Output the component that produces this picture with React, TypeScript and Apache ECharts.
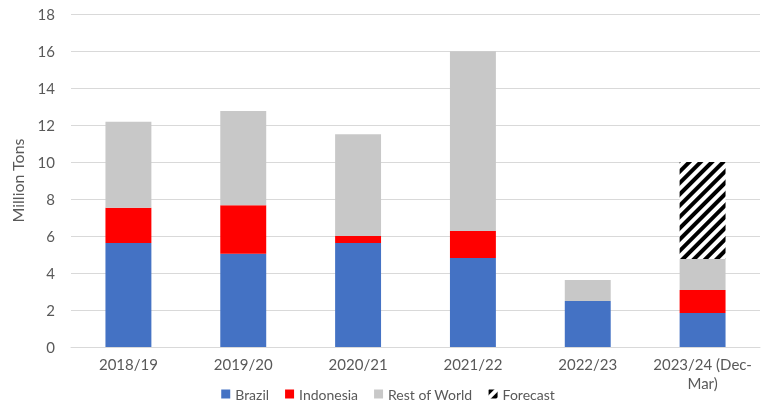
import React, { useEffect, useRef } from "react";
import * as echarts from "echarts";

const categories = ["2018/19", "2019/20", "2020/21", "2021/22", "2022/23", "2023/24 (Dec-\nMar)"];
const brazil = [5.62, 5.04, 5.62, 4.81, 2.49, 1.84];
const indonesia = [1.91, 2.62, 0.38, 1.46, 0, 1.24];
const restOfWorld = [4.65, 5.1, 5.5, 9.71, 1.13, 1.68];
const forecast = [null, null, null, null, null, 5.24];
const yTicks = { min: 0, max: 18, interval: 2 };

export default function App() {
  const ref = useRef<HTMLDivElement>(null);
  useEffect(() => {
    if (!ref.current) return;
    const chart = echarts.init(ref.current, undefined, { renderer: "svg" });
    const font = "Lato, 'Open Sans', sans-serif";
    chart.setOption({
      animation: false,
      grid: { left: 71, right: 16, top: 14, bottom: 62, outerBoundsMode: "none", containLabel: false },
      legend: {
        top: 382,
        left: "center",
        itemWidth: 9,
        itemHeight: 9,
        itemGap: 16,
        textStyle: { fontFamily: font, fontSize: 14, color: "#595959" },
        data: [
          { name: "Brazil", icon: "rect" },
          { name: "Indonesia", icon: "rect" },
          { name: "Rest of World", icon: "rect" },
          { name: "Forecast", icon: "rect" },
        ],
      },
      xAxis: {
        type: "category",
        data: categories,
        axisLine: { lineStyle: { color: "#d9d9d9", width: 1 } },
        axisTick: { show: false },
        axisLabel: { fontFamily: font, fontSize: 15, color: "#595959", margin: 7, lineHeight: 19, interval: 0 },
      },
      yAxis: {
        type: "value",
        min: yTicks.min,
        max: yTicks.max,
        interval: yTicks.interval,
        name: "Million Tons",
        nameLocation: "middle",
        nameGap: 46,
        nameTextStyle: { fontFamily: font, fontSize: 16, color: "#595959" },
        axisLabel: { fontFamily: font, fontSize: 15, color: "#595959", margin: 16 },
        axisLine: { show: false },
        axisTick: { show: false },
        splitLine: { lineStyle: { color: "#d9d9d9", width: 1 } },
      },
      series: [
        { name: "Brazil", type: "bar", stack: "t", data: brazil, barWidth: "40%", itemStyle: { color: "#4472c4" } },
        { name: "Indonesia", type: "bar", stack: "t", data: indonesia, itemStyle: { color: "#ff0000" } },
        { name: "Rest of World", type: "bar", stack: "t", data: restOfWorld, itemStyle: { color: "#c8c8c8" } },
        {
          name: "Forecast",
          type: "bar",
          stack: "t",
          data: forecast,
          itemStyle: {
            color: "#ffffff",
            decal: {
              symbol: "rect",
              color: "#000000",
              dashArrayX: [1, 0],
              dashArrayY: [3.2, 3.2],
              rotation: -Math.PI / 4,
              symbolSize: 1,
            },
          },
        },
      ],
    });
    return () => chart.dispose();
  }, []);
  return <div ref={ref} style={{ position: "fixed", left: 0, top: 0, width: 776, height: 409 }} />;
}
